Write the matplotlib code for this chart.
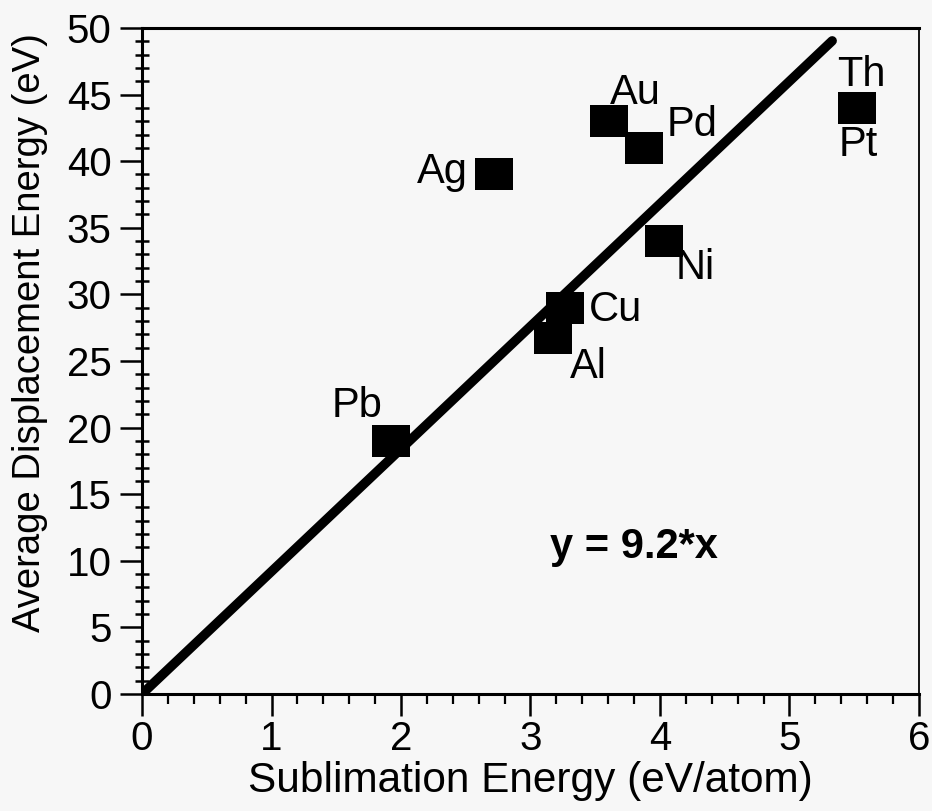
import matplotlib
matplotlib.use("Agg")
import matplotlib.pyplot as plt
from matplotlib.path import Path
import numpy as np

# Sublimation energy (eV/atom) vs. average displacement energy (eV)
elements = ["Pb", "Ag", "Au", "Pd", "Ni", "Cu", "Al", "Pt"]
sublimation = [1.92, 2.72, 3.61, 3.88, 4.03, 3.27, 3.17, 5.52]
displacement = [19.0, 39.0, 43.0, 41.0, 34.0, 29.0, 26.7, 44.0]

# Linear fit through the origin
slope = 9.2
fit_x_range = [0.0, 5.33]

# Label placement (pixel offsets from each marker)
label_offsets = {
    "Pb": (-34, 35), "Ag": (-52, 2), "Au": (26, 28), "Pd": (48, 23),
    "Ni": (31, -27), "Cu": (50, -2), "Al": (36, -29), "Pt": (1, -37),
}
extra_labels = [("Th", 5.52, 44.0, (5, 33))]

plt.rcParams["font.family"] = ["Liberation Sans", "DejaVu Sans"]
bg = "#f7f7f7"
fs = 29

fig = plt.figure(figsize=(9.32, 8.11), dpi=100, facecolor=bg)
ax = fig.add_axes([0.1524, 0.1443, 0.986 - 0.1524, 0.9655 - 0.1443], facecolor=bg)

# Fit line
fx = np.array(fit_x_range)
ax.plot(fx, slope * fx, color="black", lw=6.8, solid_capstyle="round", zorder=2)

# Slightly wide rectangular markers
rect = Path([(-0.6, -0.5), (0.6, -0.5), (0.6, 0.5), (-0.6, 0.5), (-0.6, -0.5)],
            [Path.MOVETO, Path.LINETO, Path.LINETO, Path.LINETO, Path.CLOSEPOLY])
ax.plot(sublimation, displacement, linestyle="none", marker=rect, markersize=27,
        color="black", markeredgewidth=0, zorder=3)

for name, x, y in zip(elements, sublimation, displacement):
    dx, dy = label_offsets[name]
    ax.annotate(name, (x, y), xytext=(dx, dy), textcoords="offset pixels",
                ha="center", va="center", fontsize=30, zorder=4)
for name, x, y, (dx, dy) in extra_labels:
    ax.annotate(name, (x, y), xytext=(dx, dy), textcoords="offset pixels",
                ha="center", va="center", fontsize=30, zorder=4)

ax.text(3.8, 11.0, "y = 9.2*x", ha="center", va="center", fontsize=30,
        fontweight="bold")

ax.set_xlim(0, 6)
ax.set_ylim(0, 50)
ax.set_xticks(np.arange(0, 7, 1))
ax.set_xticks(np.arange(0, 6.01, 0.2), minor=True)
ax.set_yticks(np.arange(0, 51, 5))
ax.set_yticks(np.arange(0, 51, 1), minor=True)

ax.tick_params(axis="both", which="major", direction="out", length=16, width=1.8,
               labelsize=fs)
ax.tick_params(axis="x", which="major", pad=3)
ax.tick_params(axis="y", which="major", pad=6)
ax.tick_params(axis="x", which="minor", direction="out", length=7, width=1.6)
ax.tick_params(axis="y", which="minor", direction="inout", length=10, width=1.8)

for side in ["left", "bottom", "top"]:
    ax.spines[side].set_linewidth(2.2)
ax.spines["right"].set_linewidth(1.3)

ax.set_xlabel("Sublimation Energy (eV/atom)", fontsize=30.5)
ax.set_ylabel("Average Displacement Energy (eV)", fontsize=27.5)
ax.xaxis.set_label_coords(0.5, -0.131)
ax.xaxis.label.set_verticalalignment("center")
ax.yaxis.set_label_coords(-0.144, 0.543)
ax.yaxis.label.set_verticalalignment("center")

fig.savefig("out.png", dpi=100, facecolor=bg)
